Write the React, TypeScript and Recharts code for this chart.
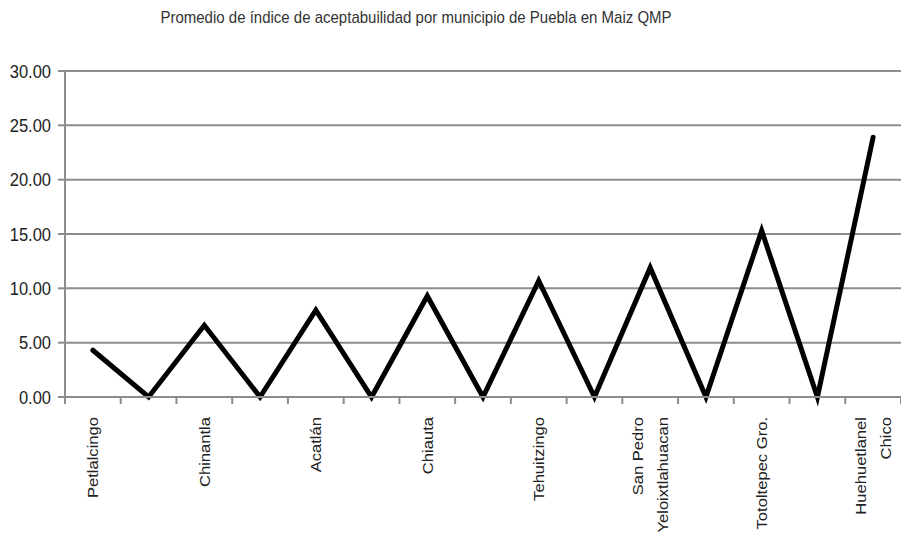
import React from 'react';
import { LineChart, Line, XAxis, YAxis, CartesianGrid } from 'recharts';

const categories = [
  'Petlalcingo', '', 'Chinantla', '', 'Acatlán', '', 'Chiauta', '', 'Tehuitzingo', '',
  'San Pedro|Yeloixtlahuacan', '', 'Totoltepec Gro.', '', 'Huehuetlanel|Chico'
];
const values = [4.3, 0, 6.6, 0, 8.0, 0, 9.3, 0, 10.7, 0, 11.9, 0, 15.3, 0, 23.9];
const yTicks = [0, 5, 10, 15, 20, 25, 30];

const data = categories.map((name, i) => ({ pos: i + 0.5, name, value: values[i] }));
const boundaryTicks = categories.map((_, i) => i).concat([categories.length]);
const centerTicks = categories.map((_, i) => i + 0.5);
const xTicks = [...boundaryTicks, ...centerTicks].sort((a, b) => a - b);

const FONT = '"Liberation Sans", Arial, sans-serif';

// text in the original is a bit taller than plain Arial, so stretch it
const XTick = ({ x, y, payload }: any) => {
  const v = payload.value;
  if (Number.isInteger(v)) {
    return <line x1={x} y1={y} x2={x} y2={y + 7} stroke="#8c8c8c" strokeWidth={2} />;
  }
  const lines = categories[Math.round(v - 0.5)].split('|').filter((s) => s);
  const gap = 25;
  return (
    <g>
      {lines.map((l, k) => {
        const lx = x + (k - (lines.length - 1) / 2) * gap;
        return (
          <text
            key={k}
            transform={`translate(${lx},${y + 20}) scale(1,1.07) rotate(-90)`}
            textAnchor="end"
            dy="0.35em"
            fontSize={15.5}
            fontFamily={FONT}
            fill="#222"
          >
            {l}
          </text>
        );
      })}
    </g>
  );
};

const YTick = ({ x, y, payload }: any) => (
  <text
    transform={`translate(${x},${y}) scale(1,1.15)`}
    textAnchor="end"
    dy="0.35em"
    fontSize={16.5}
    fontFamily={FONT}
    fill="#222"
  >
    {payload.value.toFixed(2)}
  </text>
);

export default function App() {
  return (
    <div style={{ position: 'absolute', left: 0, top: 0, width: 901, height: 536, background: '#fff' }}>
      <div
        style={{
          position: 'absolute',
          left: 0,
          top: 8,
          width: 832,
          textAlign: 'center',
          fontFamily: FONT,
          fontSize: 15,
          lineHeight: '17px',
          color: '#333',
          transform: 'scaleY(1.12)',
        }}
      >
        Promedio de índice de aceptabuilidad por municipio de Puebla en Maiz QMP
      </div>
      <LineChart width={901} height={536} data={data} margin={{ top: 71, right: 0, left: 0, bottom: 0 }}>
        <CartesianGrid vertical={false} stroke="#8c8c8c" strokeWidth={2} />
        <XAxis
          dataKey="pos"
          type="number"
          domain={[0, categories.length]}
          ticks={xTicks}
          interval={0}
          height={139}
          tickSize={0}
          tickMargin={0}
          tickLine={false}
          axisLine={{ stroke: '#8c8c8c', strokeWidth: 2 }}
          tick={<XTick />}
        />
        <YAxis
          domain={[0, 30]}
          ticks={yTicks}
          width={65}
          interval={0}
          tickSize={7}
          tickMargin={7}
          axisLine={{ stroke: '#8c8c8c', strokeWidth: 2 }}
          tickLine={{ stroke: '#8c8c8c', strokeWidth: 2 }}
          tick={<YTick />}
        />
        <Line
          type="linear"
          dataKey="value"
          stroke="#000"
          strokeWidth={5}
          strokeLinejoin="miter"
          strokeLinecap="round"
          dot={false}
          activeDot={false}
          isAnimationActive={false}
        />
      </LineChart>
    </div>
  );
}
